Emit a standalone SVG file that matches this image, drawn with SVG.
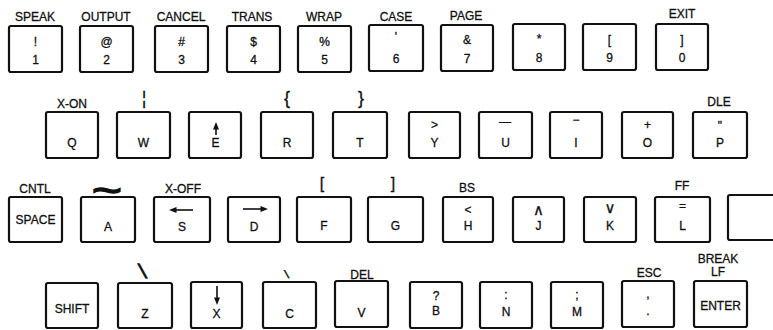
<svg xmlns="http://www.w3.org/2000/svg" width="773" height="330" viewBox="0 0 773 330">
<style>
.key{fill:#fff;stroke:#111;stroke-width:2.2}
text{font-family:"Liberation Sans",Arial,"DejaVu Sans",sans-serif;font-size:12px;fill:#111;stroke:#111;stroke-width:0.3;text-anchor:middle}
.big{font-size:18px}
.arr{stroke:#111;stroke-width:1.6;fill:none}
.head{fill:#111}
</style>
<rect width="773" height="330" fill="#fff"/>
<!-- Row 1 -->
<g id="key-1"><text x="35" y="21">SPEAK</text><rect class="key" x="9" y="26" width="53" height="46" rx="2"/><text x="35.5" y="46">!</text><text x="35.5" y="64">1</text></g>
<g id="key-2"><text x="106" y="21">OUTPUT</text><rect class="key" x="80" y="26" width="53" height="46" rx="2"/><text x="106.5" y="46">@</text><text x="106.5" y="64">2</text></g>
<g id="key-3"><text x="181" y="21">CANCEL</text><rect class="key" x="155" y="26" width="53" height="46" rx="2"/><text x="181.5" y="46">#</text><text x="181.5" y="64">3</text></g>
<g id="key-4"><text x="252" y="21">TRANS</text><rect class="key" x="227" y="26" width="53" height="46" rx="2"/><text x="253.5" y="46">$</text><text x="253.5" y="64">4</text></g>
<g id="key-5"><text x="324" y="21">WRAP</text><rect class="key" x="298" y="26" width="53" height="46" rx="2"/><text x="324.5" y="46">%</text><text x="324.5" y="64">5</text></g>
<g id="key-6"><text x="396" y="21">CASE</text><rect class="key" x="369" y="25" width="54" height="46" rx="2"/><text x="396" y="41">'</text><text x="396" y="63">6</text></g>
<g id="key-7"><text x="466" y="20">PAGE</text><rect class="key" x="441" y="25" width="52" height="46" rx="2"/><text x="467" y="44">&amp;</text><text x="467" y="63">7</text></g>
<g id="key-8"><rect class="key" x="513" y="24" width="52" height="46" rx="2"/><text x="539" y="43">*</text><text x="539" y="62">8</text></g>
<g id="key-9"><rect class="key" x="583" y="24" width="53" height="46" rx="2"/><text x="609.5" y="44">[</text><text x="609.5" y="62">9</text></g>
<g id="key-0"><text x="682" y="18">EXIT</text><rect class="key" x="656" y="24" width="52" height="46" rx="2"/><text x="682" y="44">]</text><text x="682" y="62">0</text></g>
<!-- Row 2 -->
<g id="key-q"><text x="72" y="108">X-ON</text><rect class="key" x="46" y="112" width="52" height="46" rx="2"/><text x="72" y="147">Q</text></g>
<g id="key-w"><text class="big" x="144" y="104">¦</text><rect class="key" x="117" y="112" width="53" height="46" rx="2"/><text x="143.5" y="147">W</text></g>
<g id="key-e"><rect class="key" x="189" y="112" width="52" height="46" rx="2"/><line class="arr" x1="216" y1="135" x2="216" y2="127"/><polygon class="head" points="216,122 213,129.5 219,129.5"/><text x="215.5" y="147">E</text></g>
<g id="key-r"><text class="big" x="287" y="104">{</text><rect class="key" x="261" y="112" width="52" height="46" rx="2"/><text x="287" y="147">R</text></g>
<g id="key-t"><text class="big" x="361" y="104">}</text><rect class="key" x="333" y="112" width="54" height="46" rx="2"/><text x="360" y="147">T</text></g>
<g id="key-y"><rect class="key" x="409" y="112" width="51" height="46" rx="2"/><text x="434.5" y="129">&gt;</text><text x="434.5" y="147">Y</text></g>
<g id="key-u"><rect class="key" x="479" y="112" width="53" height="46" rx="2"/><text x="505" y="126">—</text><text x="505.5" y="147">U</text></g>
<g id="key-i"><rect class="key" x="550" y="112" width="52" height="46" rx="2"/><text x="576" y="124">−</text><text x="576" y="147">I</text></g>
<g id="key-o"><rect class="key" x="622" y="112" width="51" height="46" rx="2"/><text x="647.5" y="129">+</text><text x="647.5" y="147">O</text></g>
<g id="key-p"><text x="719" y="106">DLE</text><rect class="key" x="693" y="112" width="54" height="46" rx="2"/><text x="720" y="130">"</text><text x="720" y="147">P</text></g>
<!-- Row 3 -->
<g id="key-space"><text x="35" y="193">CNTL</text><rect class="key" x="9" y="197" width="53" height="45" rx="2"/><text x="35.5" y="224">SPACE</text></g>
<g id="key-a"><text transform="translate(107,204) scale(1.3,1)" x="0" y="0" style="font-size:40px;stroke-width:1.3">~</text><rect class="key" x="81" y="197" width="54" height="45" rx="2"/><text x="108" y="231">A</text></g>
<g id="key-s"><text x="183" y="193">X-OFF</text><rect class="key" x="154" y="197" width="56" height="45" rx="2"/><line class="arr" x1="193" y1="210" x2="175" y2="210"/><polygon class="head" points="169,210 176.5,207 176.5,213"/><text x="182" y="231">S</text></g>
<g id="key-d"><rect class="key" x="228" y="197" width="52" height="45" rx="2"/><line class="arr" x1="243" y1="209" x2="262" y2="209"/><polygon class="head" points="268,209 260.5,206 260.5,212"/><text x="254" y="231">D</text></g>
<g id="key-f"><text style="font-size:16px" x="322" y="189">[</text><rect class="key" x="297" y="197" width="54" height="45" rx="2"/><text x="324" y="230">F</text></g>
<g id="key-g"><text style="font-size:16px" x="393" y="189">]</text><rect class="key" x="368" y="197" width="55" height="45" rx="2"/><text x="395.5" y="230">G</text></g>
<g id="key-h"><text x="467" y="192">BS</text><rect class="key" x="443" y="197" width="50" height="45" rx="2"/><text x="468" y="214">&lt;</text><text x="468" y="230">H</text></g>
<g id="key-j"><rect class="key" x="513" y="197" width="51" height="45" rx="2"/><text x="538.5" y="215" style="font-size:15px">∧</text><text x="538.5" y="230">J</text></g>
<g id="key-k"><rect class="key" x="584" y="197" width="52" height="45" rx="2"/><text x="610" y="213" style="font-size:15px">∨</text><text x="610" y="230">K</text></g>
<g id="key-l"><text x="682" y="190">FF</text><rect class="key" x="655" y="197" width="55" height="45" rx="2"/><text x="682.5" y="210">=</text><text x="682.5" y="230">L</text></g>
<g id="key-blank"><rect class="key" x="728" y="195" width="60" height="45" rx="2"/></g>
<!-- Row 4 -->
<g id="key-shift"><rect class="key" x="46" y="283" width="52" height="45" rx="2"/><text x="72" y="313">SHIFT</text></g>
<g id="key-z"><text transform="translate(145,278) skewX(20)" x="0" y="0" style="font-size:20px;font-weight:bold">\</text><rect class="key" x="118" y="283" width="54" height="45" rx="2"/><text x="145" y="318">Z</text></g>
<g id="key-x"><rect class="key" x="191" y="282" width="51" height="46" rx="2"/><line class="arr" x1="217" y1="286" x2="217" y2="299"/><polygon class="head" points="217,305 214,297.5 220,297.5"/><text x="216.5" y="318">X</text></g>
<g id="key-c"><text transform="translate(288,278) skewX(20)" x="0" y="0" style="font-size:11px;font-weight:bold">\</text><rect class="key" x="263" y="282" width="53" height="46" rx="2"/><text x="289.5" y="318">C</text></g>
<g id="key-v"><text x="362" y="279">DEL</text><rect class="key" x="335" y="281" width="53" height="46" rx="2"/><text x="361.5" y="317">V</text></g>
<g id="key-b"><rect class="key" x="410" y="282" width="52" height="46" rx="2"/><text x="436" y="300">?</text><text x="436" y="315">B</text></g>
<g id="key-n"><rect class="key" x="480" y="282" width="52" height="46" rx="2"/><text x="506" y="299">:</text><text x="506" y="316">N</text></g>
<g id="key-m"><rect class="key" x="551" y="282" width="52" height="46" rx="2"/><text x="577" y="299">;</text><text x="577" y="316">M</text></g>
<g id="key-period"><text x="649" y="277">ESC</text><rect class="key" x="622" y="281" width="52" height="46" rx="2"/><text x="648" y="298">,</text><text x="648" y="315">.</text></g>
<g id="key-enter"><text x="718" y="263">BREAK</text><text x="718" y="276">LF</text><rect class="key" x="694" y="281" width="53" height="46" rx="2"/><text x="720.5" y="310">ENTER</text></g>
</svg>
